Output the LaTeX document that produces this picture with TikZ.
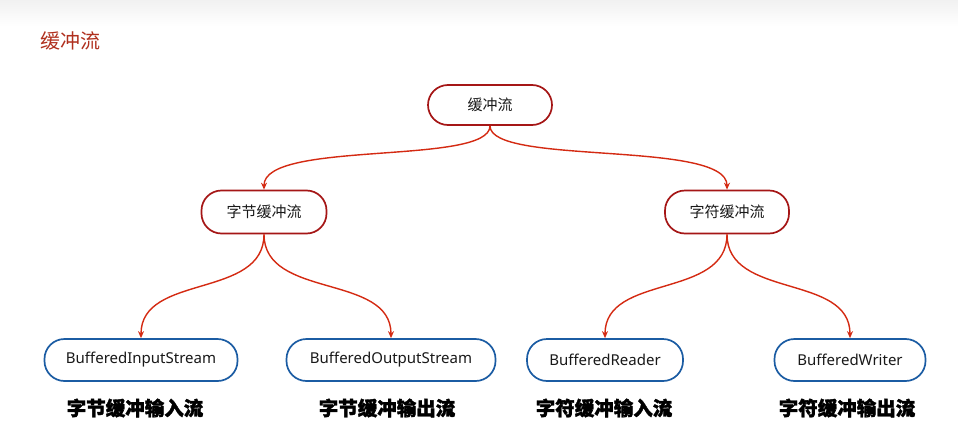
\documentclass[tikz,border=0pt]{standalone}
\usepackage{fontspec}
\setmainfont{Noto Sans CJK SC}
\newfontfamily\latinfont{Noto Sans}
\newfontfamily\cjkheavy{Noto Sans CJK SC}[BoldFeatures={FakeBold=1.6}]
\usetikzlibrary{arrows.meta}
\definecolor{titlered}{HTML}{B0301E}
\definecolor{boxred}{HTML}{A51616}
\definecolor{edgered}{HTML}{D42A12}
\definecolor{boxblue}{HTML}{1B5CA3}
\definecolor{bandgray}{HTML}{F1F1F1}
\tikzset{
  redbox/.style={draw=boxred, line width=1.7pt, rounded corners=20pt, minimum height=40pt, inner sep=0pt, font=\fontsize{15}{17}\selectfont, text=black!90},
  bluebox/.style={draw=boxblue, line width=1.7pt, rounded corners=20pt, minimum height=42pt, inner sep=0pt, font=\latinfont\fontsize{15}{17}\selectfont, text=black!90},
  caplabel/.style={font=\cjkheavy\fontsize{19.5}{21}\selectfont\bfseries, text=black},
  link/.style={draw=edgered, line width=1.4pt, -{Stealth[length=7pt,width=6pt]}}
}
\begin{document}
\begin{tikzpicture}[x=1pt,y=-1pt]
\useasboundingbox (0,0) rectangle (958,431);
\fill[white] (0,0) rectangle (958,431);
\shade[top color=bandgray, bottom color=white] (0,0) rectangle (958,26);
\node[anchor=west, text=titlered, font=\fontsize{20}{22}\selectfont] (title) at (37,41) {缓冲流};

\node[redbox, minimum width=124pt] (root) at (490,105) {缓冲流};
\node[redbox, minimum width=125pt, minimum height=43pt] (byte) at (264,212) {字节缓冲流};
\node[redbox, minimum width=124pt, minimum height=43pt] (char) at (727,212) {字符缓冲流};

\node[bluebox, minimum width=193pt] (bis) at (141,360) {BufferedInputStream};
\node[bluebox, minimum width=209pt] (bos) at (391,360) {BufferedOutputStream};
\node[bluebox, minimum width=156pt] (br) at (605,360) {BufferedReader};
\node[bluebox, minimum width=151pt] (bw) at (850,360) {BufferedWriter};

\node[caplabel] (l1) at (135,408) {字节缓冲输入流};
\node[caplabel] (l2) at (387,408) {字节缓冲输出流};
\node[caplabel] (l3) at (604,408) {字符缓冲输入流};
\node[caplabel] (l4) at (847,408) {字符缓冲输出流};

\draw[link] (root.south) .. controls +(0,40) and +(0,-50) .. (byte.north);
\draw[link] (root.south) .. controls +(0,40) and +(0,-50) .. (char.north);
\draw[link] (byte.south) .. controls +(0,65) and +(0,-65) .. (bis.north);
\draw[link] (byte.south) .. controls +(0,65) and +(0,-65) .. (bos.north);
\draw[link] (char.south) .. controls +(0,65) and +(0,-65) .. (br.north);
\draw[link] (char.south) .. controls +(0,65) and +(0,-65) .. (bw.north);
\end{tikzpicture}
\end{document}
